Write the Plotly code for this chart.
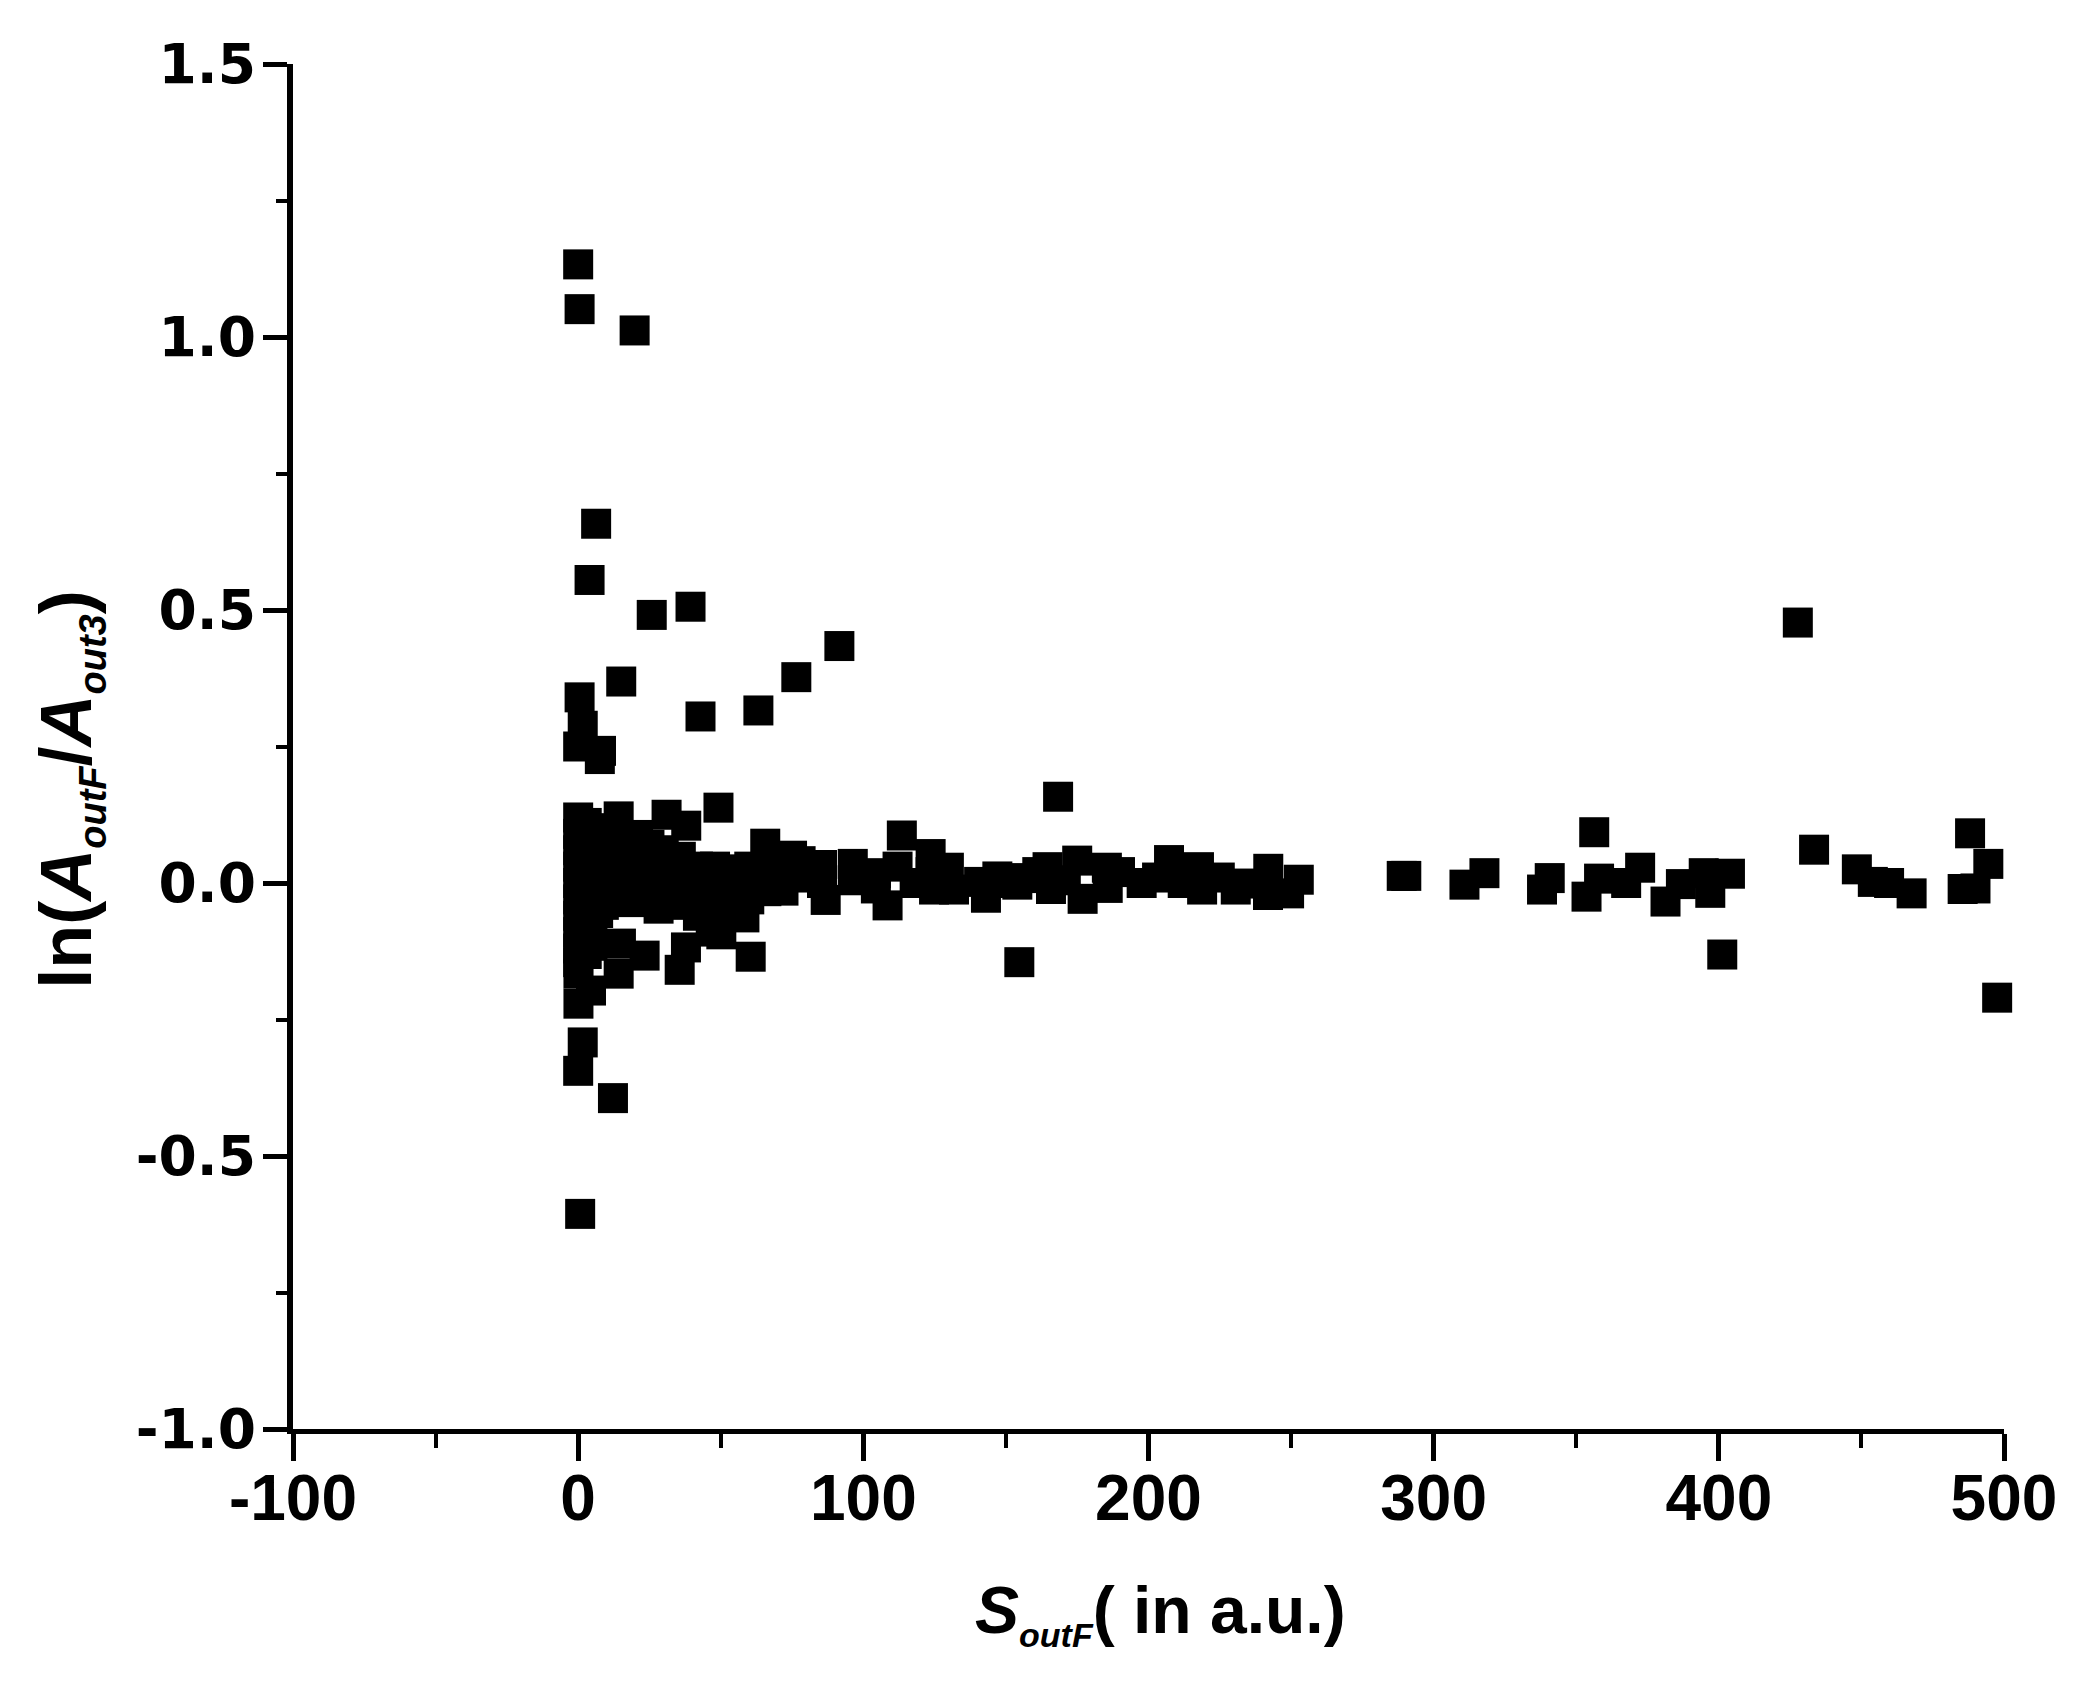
import plotly.graph_objects as go

# ---- data ----
x_outliers = [0.0, 0.5, 19.8, 6.3, 4.0, 25.8, 39.4, 91.6, 76.5, 15.1, 63.2, 42.9,
              0.5, 1.6, 0.0, 8.0, 7.6, 427.7, 168.3, 49.2, 31.0, 14.2, 37.9, 113.5,
              356.3, 488.1, 433.4, 65.6,
              0.7, 12.2, 0.0, 1.6, 0.1, 4.5, 0.1, 14.2, 15.0, 23.3, 35.6, 37.8,
              46.5, 50.2, 58.3, 60.5, 154.7, 401.2, 497.6]
y_outliers = [1.133, 1.051, 1.012, 0.658, 0.555, 0.491, 0.506, 0.434, 0.377, 0.369, 0.316, 0.305,
              0.340, 0.288, 0.250, 0.242, 0.227, 0.477, 0.158, 0.138, 0.125, 0.122, 0.105, 0.087,
              0.093, 0.091, 0.061, 0.072,
              -0.606, -0.394, -0.344, -0.292, -0.221, -0.197, -0.166, -0.166, -0.111, -0.133, -0.159, -0.118,
              -0.089, -0.094, -0.063, -0.135, -0.145, -0.131, -0.210]

x_core = [0, 0, 0, 0, 0, 0, 0, 0, 0, 0,
          1.5, 1.5, 1.5, 1.5, 1.5, 1.5, 1.5, 1.5,
          3, 3, 3, 3, 3, 3, 3, 3, 3,
          5, 5, 5, 5, 5, 5, 5, 5,
          7, 7, 7, 7, 7, 7, 7,
          9, 9, 9, 9, 9, 9,
          12, 12, 12, 12, 12,
          18, 18, 18, 18, 18,
          21, 24, 24, 24, 25, 28.2,
          30, 30, 30, 30,
          36, 36, 36, 36,
          42, 42, 42, 42,
          48, 48, 48, 48,
          54, 54, 54,
          60, 60, 60,
          66, 66, 66,
          72, 72, 75, 78, 78]
y_core = [0.120, 0.090, 0.060, 0.030, 0.000, -0.030, -0.060, -0.090, -0.120, -0.145,
          0.105, 0.075, 0.045, 0.015, -0.015, -0.045, -0.075, -0.105,
          0.110, 0.080, 0.050, 0.020, -0.010, -0.040, -0.070, -0.100, -0.130,
          0.100, 0.065, 0.035, 0.005, -0.025, -0.055, -0.085, -0.115,
          0.090, 0.060, 0.030, 0.000, -0.030, -0.055, -0.040,
          0.100, 0.070, 0.040, 0.010, -0.020, -0.040,
          0.090, 0.060, 0.030, 0.000, -0.030,
          0.080, 0.050, 0.020, -0.010, -0.035,
          0.088, 0.040, 0.010, -0.020, 0.070, -0.047,
          0.060, 0.030, 0.000, -0.030,
          0.048, 0.020, -0.010, -0.040,
          0.030, 0.000, -0.030, -0.060,
          0.030, 0.000, -0.030, -0.055,
          0.025, -0.005, -0.035,
          0.030, 0.000, -0.030,
          0.040, 0.010, -0.015,
          0.020, -0.014, 0.050, 0.040, 0.010]

x_band = [85.5, 85.5, 86.8, 96.3, 96.3, 104.4, 104.4, 108.5, 112.0, 118.0,
          123.6, 123.6, 124.8, 130.0, 131.8, 140.6, 143.0, 147.0,
          150.0, 154.0, 155.5, 161.0, 164.6, 165.8, 171.0, 175.0, 176.9, 185.4, 185.7,
          190.0, 197.6, 203.0, 207.2, 212.0, 217.7, 218.8, 225.0, 230.6, 234.7,
          241.9, 242.0, 249.3, 252.7]
y_band = [0.033, 0.000, -0.031, 0.035, 0.005, 0.018, -0.010, -0.041, 0.030, 0.000,
          0.053, 0.020, -0.012, 0.028, -0.012, 0.002, -0.027, 0.012,
          0.000, -0.003, 0.009, 0.020, 0.029, -0.011, 0.005, 0.041, -0.029, 0.028, -0.009,
          0.020, 0.000, 0.010, 0.042, 0.000, 0.029, -0.012, 0.010, -0.012, -0.001,
          -0.022, 0.026, -0.019, 0.006]

x_right = [288.8, 290.4, 310.8, 317.8, 338.0, 340.7, 353.6, 358.0, 367.5, 372.4,
           381.3, 386.7, 394.7, 397.0, 403.9, 448.4, 454.0, 459.7, 467.6,
           485.5, 490.0, 494.5]
y_right = [0.013, 0.013, -0.003, 0.018, -0.012, 0.009, -0.025, 0.008, 0.000, 0.028,
           -0.034, -0.002, 0.018, -0.018, 0.017, 0.025, 0.002, 0.000, -0.019,
           -0.011, -0.010, 0.035]

x_tickvals = [-100, 0, 100, 200, 300, 400, 500]
x_ticktext = ["-100", "0", "100", "200", "300", "400", "500"]
y_tickvals = [-1.0, -0.5, 0.0, 0.5, 1.0, 1.5]
y_ticktext = ["-1.0", "-0.5", "0.0", "0.5", "1.0", "1.5"]

xs = x_outliers + x_core + x_band + x_right
ys = y_outliers + y_core + y_band + y_right

FONT = "Liberation Sans, Arial, sans-serif"
XFONT = "Liberation Sans Narrow, Arial Narrow, Liberation Sans, Arial, sans-serif"
YFONT = "DejaVu Sans, Liberation Sans, sans-serif"

fig = go.Figure()
fig.add_trace(go.Scatter(
    x=xs, y=ys, mode="markers",
    marker=dict(symbol="square", size=30, color="black", line=dict(width=0)),
    cliponaxis=False, showlegend=False,
))

fig.update_layout(
    width=2090, height=1703,
    margin=dict(l=285, r=94, t=56, b=282),
    paper_bgcolor="white", plot_bgcolor="white",
    font=dict(family=FONT, color="black"),
    xaxis=dict(
        range=[-100, 500], showgrid=False, zeroline=False,
        showline=True, linewidth=5, linecolor="black",
        ticks="outside", ticklen=27, tickwidth=5, tickcolor="black",
        tickvals=x_tickvals, ticktext=x_ticktext,
        tickfont=dict(family=XFONT, size=64, weight="bold"),
        ticklabelstandoff=-18,
        minor=dict(ticks="outside", ticklen=14, tickwidth=4, tickcolor="black", dtick=50, tick0=-100, showgrid=False),
    ),
    yaxis=dict(
        range=[-1.0, 1.5], showgrid=False, zeroline=False,
        showline=True, linewidth=6, linecolor="black",
        ticks="outside", ticklen=24, tickwidth=5, tickcolor="black",
        tickvals=y_tickvals, ticktext=y_ticktext,
        tickfont=dict(family=YFONT, size=55, weight="bold"),
        ticklabelstandoff=-4,
        minor=dict(ticks="outside", ticklen=11, tickwidth=4, tickcolor="black", dtick=0.25, tick0=-1.0, showgrid=False),
    ),
)

SUB = '<sub><span style="font-size:{}px"><i>{}</i></span></sub>'

fig.add_annotation(
    xref="paper", yref="paper", x=-0.130, y=0.468,
    text="ln(<i>A</i>" + SUB.format(38, "outF") + "/<i>A</i>" + SUB.format(38, "out3") + ")",
    textangle=-90, showarrow=False, xanchor="center", yanchor="middle",
    font=dict(family=FONT, size=72, weight="bold", color="black"),
)
fig.add_annotation(
    xref="paper", yref="paper", x=0.507, y=-0.135,
    text="<i>S</i>" + SUB.format(34, "outF") + "( in a.u.)",
    showarrow=False, xanchor="center", yanchor="middle",
    font=dict(family=FONT, size=66, weight="bold", color="black"),
)

fig.write_html("out.html")
